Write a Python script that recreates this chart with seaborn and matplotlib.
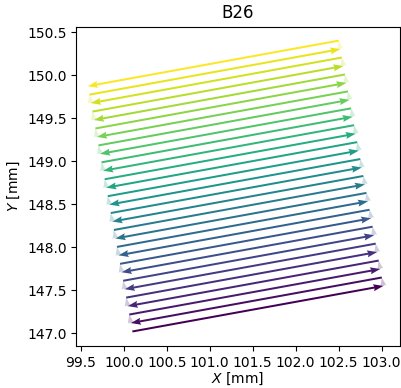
import numpy as np
import matplotlib
matplotlib.use("Agg")
import matplotlib.pyplot as plt
from matplotlib.ticker import MultipleLocator
import seaborn as sns

# scan lines: left and right end of every line (mm)
left_x = [100.100, 100.082, 100.064, 100.046, 100.028, 100.011, 99.993, 99.975, 99.957, 99.939,
          99.921, 99.903, 99.885, 99.867, 99.849, 99.832, 99.814, 99.796, 99.778, 99.760,
          99.742, 99.724, 99.706, 99.688, 99.670, 99.653, 99.635, 99.617, 99.599, 99.581]
left_y = [147.020, 147.118, 147.217, 147.315, 147.414, 147.512, 147.610, 147.709, 147.807, 147.906,
          148.004, 148.102, 148.201, 148.299, 148.398, 148.496, 148.594, 148.693, 148.791, 148.890,
          148.988, 149.086, 149.185, 149.283, 149.382, 149.480, 149.578, 149.677, 149.775, 149.874]
right_x = [103.020, 103.002, 102.984, 102.966, 102.948, 102.931, 102.913, 102.895, 102.877, 102.859,
           102.841, 102.823, 102.805, 102.787, 102.769, 102.752, 102.734, 102.716, 102.698, 102.680,
           102.662, 102.644, 102.626, 102.608, 102.590, 102.573, 102.555, 102.537, 102.519, 102.501]
right_y = [147.550, 147.648, 147.747, 147.845, 147.944, 148.042, 148.140, 148.239, 148.337, 148.436,
           148.534, 148.632, 148.731, 148.829, 148.928, 149.026, 149.124, 149.223, 149.321, 149.420,
           149.518, 149.616, 149.715, 149.813, 149.912, 150.010, 150.108, 150.207, 150.305, 150.404]
title = "B26"

# serpentine path: even lines go left->right, odd lines right->left
px, py = [], []
for k in range(len(left_x)):
    if k % 2 == 0:
        px += [left_x[k], right_x[k]]
        py += [left_y[k], right_y[k]]
    else:
        px += [right_x[k], left_x[k]]
        py += [right_y[k], left_y[k]]
px = np.array(px)
py = np.array(py)

u = np.diff(px)
v = np.diff(py)
n = len(u)
cmap = sns.color_palette("viridis", as_cmap=True)
colors = cmap(np.arange(n) / (n - 1))
# connectors between lines are faint
colors[1::2, 3] = 0.25

fig = plt.figure(figsize=(4.01, 3.88), dpi=100)
ax = fig.add_axes([0.19, 0.108, 0.8075, 0.823])
ax.quiver(px[:-1], py[:-1], u, v, color=colors, angles="xy", scale_units="xy", scale=1,
          width=0.0062, headwidth=3.5, headlength=5, headaxislength=4.5)
ax.set_xlim(99.45, 103.21)
ax.set_ylim(146.85, 150.565)
ax.set_aspect("equal")
ax.xaxis.set_major_locator(MultipleLocator(0.5))
ax.yaxis.set_major_locator(MultipleLocator(0.5))
ax.set_xlabel("$X$ [mm]", labelpad=1)
ax.set_ylabel("$Y$ [mm]")
ax.set_title(title)

fig.savefig("out.png", dpi=100)
